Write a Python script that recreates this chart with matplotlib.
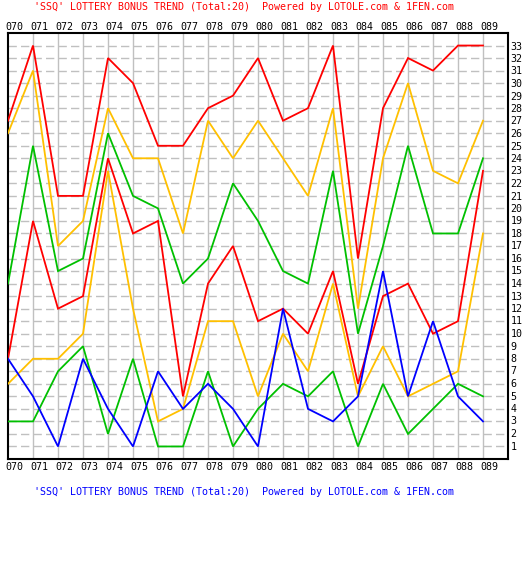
import matplotlib
matplotlib.use("Agg")
import matplotlib.pyplot as plt

issues = ['070', '071', '072', '073', '074', '075', '076', '077', '078', '079',
          '080', '081', '082', '083', '084', '085', '086', '087', '088', '089']
red_top = [27, 33, 21, 21, 32, 30, 25, 25, 28, 29, 32, 27, 28, 33, 16, 28, 32, 31, 33, 33]
orange_top = [26, 31, 17, 19, 28, 24, 24, 18, 27, 24, 27, 24, 21, 28, 12, 24, 30, 23, 22, 27]
green_top = [14, 25, 15, 16, 26, 21, 20, 14, 16, 22, 19, 15, 14, 23, 10, 17, 25, 18, 18, 24]
red_low = [8, 19, 12, 13, 24, 18, 19, 5, 14, 17, 11, 12, 10, 15, 6, 13, 14, 10, 11, 23]
orange_low = [6, 8, 8, 10, 23, 12, 3, 4, 11, 11, 5, 10, 7, 14, 5, 9, 5, 6, 7, 18]
green_low = [3, 3, 7, 9, 2, 8, 1, 1, 7, 1, 4, 6, 5, 7, 1, 6, 2, 4, 6, 5]
blue = [8, 5, 1, 8, 4, 1, 7, 4, 6, 4, 1, 12, 4, 3, 5, 15, 5, 11, 5, 3]
y_labels = [str(v) for v in range(1, 34)]

title = "'SSQ' LOTTERY BONUS TREND (Total:20)  Powered by LOTOLE.com & 1FEN.com"

W, H = 523, 565
fig = plt.figure(figsize=(W / 100, H / 100), dpi=100)
L, R, T, B = 8, 508, 33, 459
ax = fig.add_axes([L / W, 1 - B / H, (R - L) / W, (B - T) / H])
ax.set_xlim(0, 20)
ax.set_ylim(0, 34)

grid_c = '#c0c0c0'
for i in range(1, len(issues)):
    ax.axvline(i, color=grid_c, lw=1, zorder=1)
for v in range(1, 34):
    ax.axhline(v, color=grid_c, lw=1, ls=(0, (6, 3)), zorder=1)

x = list(range(len(issues)))
RED, ORG, GRN, BLU = '#ff0000', '#ffc000', '#00c000', '#0000ff'
series = [(green_low, GRN), (orange_low, ORG), (red_low, RED),
          (green_top, GRN), (orange_top, ORG), (red_top, RED), (blue, BLU)]
for vals, c in series:
    ax.plot(x, vals, color=c, lw=1.3, zorder=3, solid_joinstyle='miter')

ax.set_xticks([])
ax.set_yticks([])
for s in ax.spines.values():
    s.set_color('black')
    s.set_linewidth(1.5)

fnt = dict(family='DejaVu Sans Mono', fontsize=7.2)
for i, lab in enumerate(issues):
    px = L + 25 * i - 3
    fig.text(px / W, 1 - 27 / H, lab, ha='left', va='center', **fnt)
    fig.text(px / W, 1 - 467 / H, lab, ha='left', va='center', **fnt)
for lab in y_labels:
    v = int(lab)
    py = B - 12.5 * v
    fig.text(510.5 / W, 1 - py / H, lab, ha='left', va='center', **fnt)

fig.text(244 / W, 1 - 7 / H, title, ha='center', va='center', color='#ff0000', **fnt)
fig.text(244 / W, 1 - 492 / H, title, ha='center', va='center', color='#0000ff', **fnt)

fig.savefig('out.png', dpi=100)
